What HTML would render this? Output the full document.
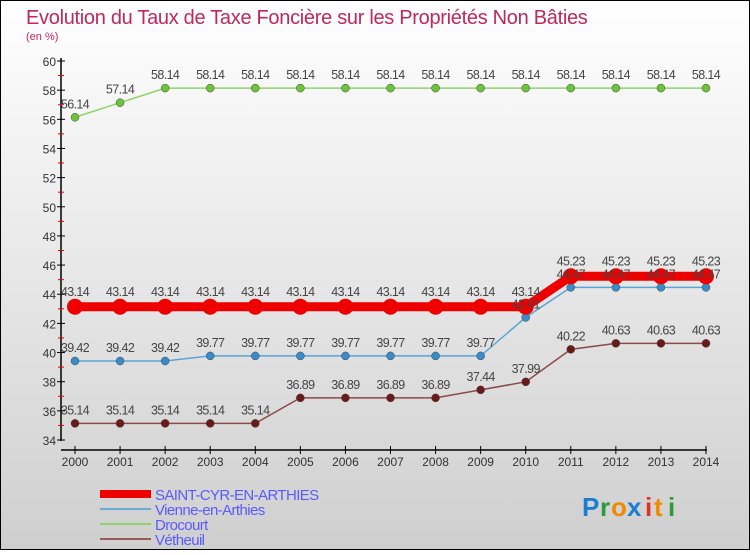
<!DOCTYPE html>
<html><head><meta charset="utf-8"><style>
html,body{margin:0;padding:0;}
body{width:750px;height:550px;overflow:hidden;font-family:"Liberation Sans",sans-serif;}
svg text{font-family:"Liberation Sans",sans-serif;}
</style></head><body>
<svg id="chart" width="750" height="550" xmlns="http://www.w3.org/2000/svg">
<defs><linearGradient id="bg" x1="0" y1="0" x2="0" y2="1"><stop offset="0" stop-color="#ffffff"/><stop offset="1" stop-color="#cfcfcf"/></linearGradient></defs>
<rect x="0.5" y="0.5" width="749" height="549" fill="url(#bg)" stroke="#000"/>
<text x="26" y="24" font-size="20" fill="#c0285a" letter-spacing="-0.3">Evolution du Taux de Taxe Foncière sur les Propriétés Non Bâties</text>
<text x="26" y="40" font-size="11" fill="#c0285a">(en %)</text>
<g id="axes"></g><g id="series"></g><g id="labels"></g><g id="legend"></g>
<g font-size="26" font-weight="bold">
<text x="582" y="516" fill="#1a7fd4">P</text><text x="600" y="516" fill="#2a9a3a">r</text><text x="611" y="516" fill="#f08a00">o</text><text x="627" y="516" fill="#1a7fd4">x</text><text x="645" y="516" fill="#e03020">i</text><text x="654" y="516" fill="#f08a00">t</text><text x="668" y="516" fill="#2a9a3a">i</text>
</g>
</svg>
<script>
const years=[2000,2001,2002,2003,2004,2005,2006,2007,2008,2009,2010,2011,2012,2013,2014];
const saintCyr=[43.14,43.14,43.14,43.14,43.14,43.14,43.14,43.14,43.14,43.14,43.14,45.23,45.23,45.23,45.23];
const vienne=[39.42,39.42,39.42,39.77,39.77,39.77,39.77,39.77,39.77,39.77,42.41,44.47,44.47,44.47,44.47];
const drocourt=[56.14,57.14,58.14,58.14,58.14,58.14,58.14,58.14,58.14,58.14,58.14,58.14,58.14,58.14,58.14];
const vetheuil=[35.14,35.14,35.14,35.14,35.14,36.89,36.89,36.89,36.89,37.44,37.99,40.22,40.63,40.63,40.63];
const yTicks=[34,36,38,40,42,44,46,48,50,52,54,56,58,60];
const seriesNames=["SAINT-CYR-EN-ARTHIES","Vienne-en-Arthies","Drocourt","Vétheuil"];
const NS="http://www.w3.org/2000/svg";
const x=i=>75+i*(706-75)/(years.length-1);
const y=v=>440-(v-34)*(440-61)/26;
function mk(t,a,p){const e=document.createElementNS(NS,t);for(const k in a)e.setAttribute(k,a[k]);p.appendChild(e);return e;}
const ax=document.getElementById('axes');
let l=mk('line',{x1:61,y1:58,x2:61,y2:441,stroke:'#000','stroke-width':1.5},ax);


l=mk('line',{x1:61,y1:450,x2:707,y2:450,stroke:'#000','stroke-width':1.5},ax);


yTicks.forEach(v=>{
 mk('line',{x1:57,y1:y(v),x2:65,y2:y(v),stroke:'#000'},ax);
 if(v<60)mk('line',{x1:58,y1:y(v+1),x2:64,y2:y(v+1),stroke:'#e00'},ax);
 const t=mk('text',{x:56,y:y(v)+5,'font-size':12,fill:'#333','text-anchor':'end'},ax);t.textContent=v;
 
 
});
years.forEach((yr,i)=>{
 mk('line',{x1:x(i),y1:446,x2:x(i),y2:454,stroke:'#000'},ax);
 const t=mk('text',{x:x(i),y:466,'font-size':12,fill:'#333','text-anchor':'middle'},ax);t.textContent=yr;
 
 
});
const sg=document.getElementById('series');
const lb=document.getElementById('labels');
function draw(vals,color,fill,w,r,name){
 const g=mk('g',{},sg);
 
 
 mk('polyline',{points:vals.map((v,i)=>x(i)+','+y(v)).join(' '),fill:'none',stroke:color,'stroke-width':w},g);
 vals.forEach((v,i)=>{
  const c=mk('circle',{cx:x(i),cy:y(v),r:r,fill:fill,stroke:r>5?'none':'#444','stroke-width':0.5},g);
  
  
  const t=mk('text',{x:x(i),y:y(v)-(r>5?11:9),'font-size':12.5,fill:'#444','text-anchor':'middle','letter-spacing':'-0.6'},lb);
  t.textContent=v.toFixed(2);
  
  
 });
}
draw(drocourt,'#8fd46a','#6cc43a',1.5,4,'drocourt-series');
draw(vetheuil,'#8a4a4a','#6b1a1a',1.5,4,'vetheuil-series');
draw(vienne,'#5aa4d6','#3a8cc8',1.5,4,'vienne-series');
draw(saintCyr,'#ee0000','#ee0000',9,8,'saint-cyr-series');
const lg=document.getElementById('legend');
const lc=['#ee0000','#6aaad6','#8fd46a','#9a5a5a'],lw=[8,2,2,2];
seriesNames.forEach((n,i)=>{
 const g=mk('g',{},lg);
 
 
 const yy=494+i*15;
 mk('line',{x1:100,y1:yy,x2:151,y2:yy,stroke:lc[i],'stroke-width':lw[i]},g);
 const t=mk('text',{x:155,y:yy+6,'font-size':15,fill:'#5a5aff','letter-spacing':'-0.6'},g);t.textContent=n;
});
</script>
</body></html>
